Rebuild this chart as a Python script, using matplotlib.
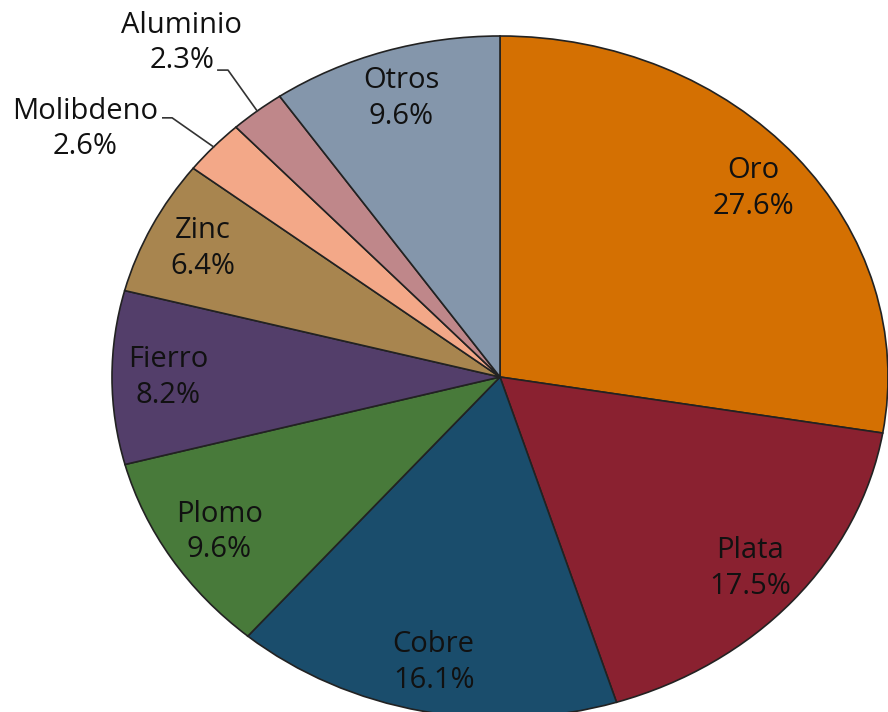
import numpy as np
import matplotlib.pyplot as plt

# Producción minera por metal (participación %)
metales = ['Oro', 'Plata', 'Cobre', 'Plomo', 'Fierro', 'Zinc', 'Molibdeno', 'Aluminio', 'Otros']
porcentajes = [27.6, 17.5, 16.1, 9.6, 8.2, 6.4, 2.6, 2.3, 9.6]
colores = ['#D47002', '#8A2130', '#1A4D6C', '#487A3A', '#533E6A',
           '#A8854F', '#F3A888', '#BF878A', '#8496AB']

# etiquetas que van fuera del pastel
externos = {'Molibdeno': (-1.07, 0.727, -0.869, -0.845, 0.760),
            'Aluminio': (-0.82, 0.979, -0.727, -0.701, 0.900)}

plt.rcParams['font.family'] = ['Open Sans', 'DejaVu Sans']

fig = plt.figure(figsize=(8.88, 7.12), dpi=100)
ax = fig.add_axes([0, 0, 1, 1])

wedges, _ = ax.pie(porcentajes, colors=colores, startangle=90, counterclock=False,
                   wedgeprops=dict(edgecolor='#222222', linewidth=1.2))

# el original está estirado horizontalmente
ax.set_aspect('auto')
ax.set_xlim(-500 / 388, 388 / 388)
ax.set_ylim(-(712 - 377) / 341, 377 / 341)

for w, nombre, p in zip(wedges, metales, porcentajes):
    ang = np.deg2rad((w.theta1 + w.theta2) / 2)
    texto = f'{nombre}\n{p:.1f}%'
    if nombre in externos:
        tx, ty, x0, x1, yl = externos[nombre]
        ax.text(tx, ty, texto, ha='center', va='center', fontsize=21,
                color='#111111', linespacing=1.3)
        ax.plot([x0, x1, np.cos(ang)], [yl, yl, np.sin(ang)],
                color='#333333', lw=1.2)
    else:
        r = 0.855
        ax.text(r * np.cos(ang), r * np.sin(ang), texto, ha='center', va='center',
                fontsize=21, color='#111111', linespacing=1.3)

fig.savefig('out.png', dpi=100)
